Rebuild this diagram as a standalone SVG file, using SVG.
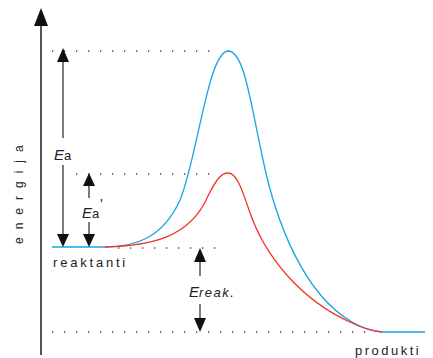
<svg xmlns="http://www.w3.org/2000/svg" width="433" height="358" viewBox="0 0 433 358">
<style>
.dot{stroke:#444;stroke-width:1.3;stroke-dasharray:1.3 10.7;fill:none}
.ax{stroke:#555;stroke-width:2;fill:none}
.ar{stroke:#222;stroke-width:1.2;fill:none}
.hd{fill:#111}
.t{font-family:"Liberation Sans",Arial,sans-serif;fill:#222}
.blue{stroke:#1AA3E8;stroke-width:1.3;fill:none}
.red{stroke:#F0382A;stroke-width:1.3;fill:none}
</style>
<g id="guides">
<line class="dot" x1="52" y1="51" x2="216" y2="51"/>
<line class="dot" x1="76" y1="174" x2="216" y2="174"/>
<line class="dot" x1="118" y1="248" x2="216" y2="248"/>
<line class="dot" x1="52" y1="332" x2="372" y2="332"/>
</g>
<g id="axis">
<line class="ax" x1="41" y1="22" x2="41" y2="355"/>
<polygon class="hd" points="41,8 48,26 34,26"/>
<text class="t" transform="translate(23,244) rotate(-90)" font-size="12" letter-spacing="8">energija</text>
</g>
<g id="curves">
<path class="blue" d="M52,247 L105,247 C135,247 163,238 180,200 C197,160 208,52 228,51 C244,51 250,100 262,155 C276,225 305,295 352,322 C364,329 372,331 382,332 L425,332"/>
<path class="red" d="M105,247 C150,246 190,238 208,196 C216,180 221,173 228,173 C236,173 241,186 249,210 C264,255 300,300 352,323 C364,329 372,331 382,332"/>
</g>
<g id="connectors">
<line class="ar" x1="63" y1="62" x2="63" y2="138"/>
<polygon class="hd" points="63,48 69,62 57,62"/>
<line class="ar" x1="63" y1="165" x2="63" y2="236"/>
<polygon class="hd" points="63,247 57,234 69,234"/>
<line class="ar" x1="89" y1="185" x2="89" y2="198"/>
<polygon class="hd" points="89,173 95,186 83,186"/>
<line class="ar" x1="89" y1="222" x2="89" y2="236"/>
<polygon class="hd" points="89,247 83,234 95,234"/>
<line class="ar" x1="200" y1="261" x2="200" y2="276"/>
<polygon class="hd" points="200,248 206,262 194,262"/>
<line class="ar" x1="200" y1="304" x2="200" y2="320"/>
<polygon class="hd" points="200,332 194,318 206,318"/>
</g>
<g id="labels">
<text class="t" x="54" y="160" font-size="15" font-style="italic">E<tspan font-size="13" font-style="normal">a</tspan></text>
<text class="t" x="82" y="218" font-size="15" font-style="italic">E<tspan font-size="13" font-style="normal">a</tspan></text>
<text class="t" x="100" y="209" font-size="14" fill="#111">'</text>
<text class="t" x="189" y="297" font-size="15" font-style="italic">E<tspan font-size="13" letter-spacing="1.5">reak.</tspan></text>
<text class="t" x="53" y="267" font-size="13" letter-spacing="2.8">reaktanti</text>
<text class="t" x="355" y="355" font-size="13" letter-spacing="2.5">produkti</text>
</g>
</svg>
